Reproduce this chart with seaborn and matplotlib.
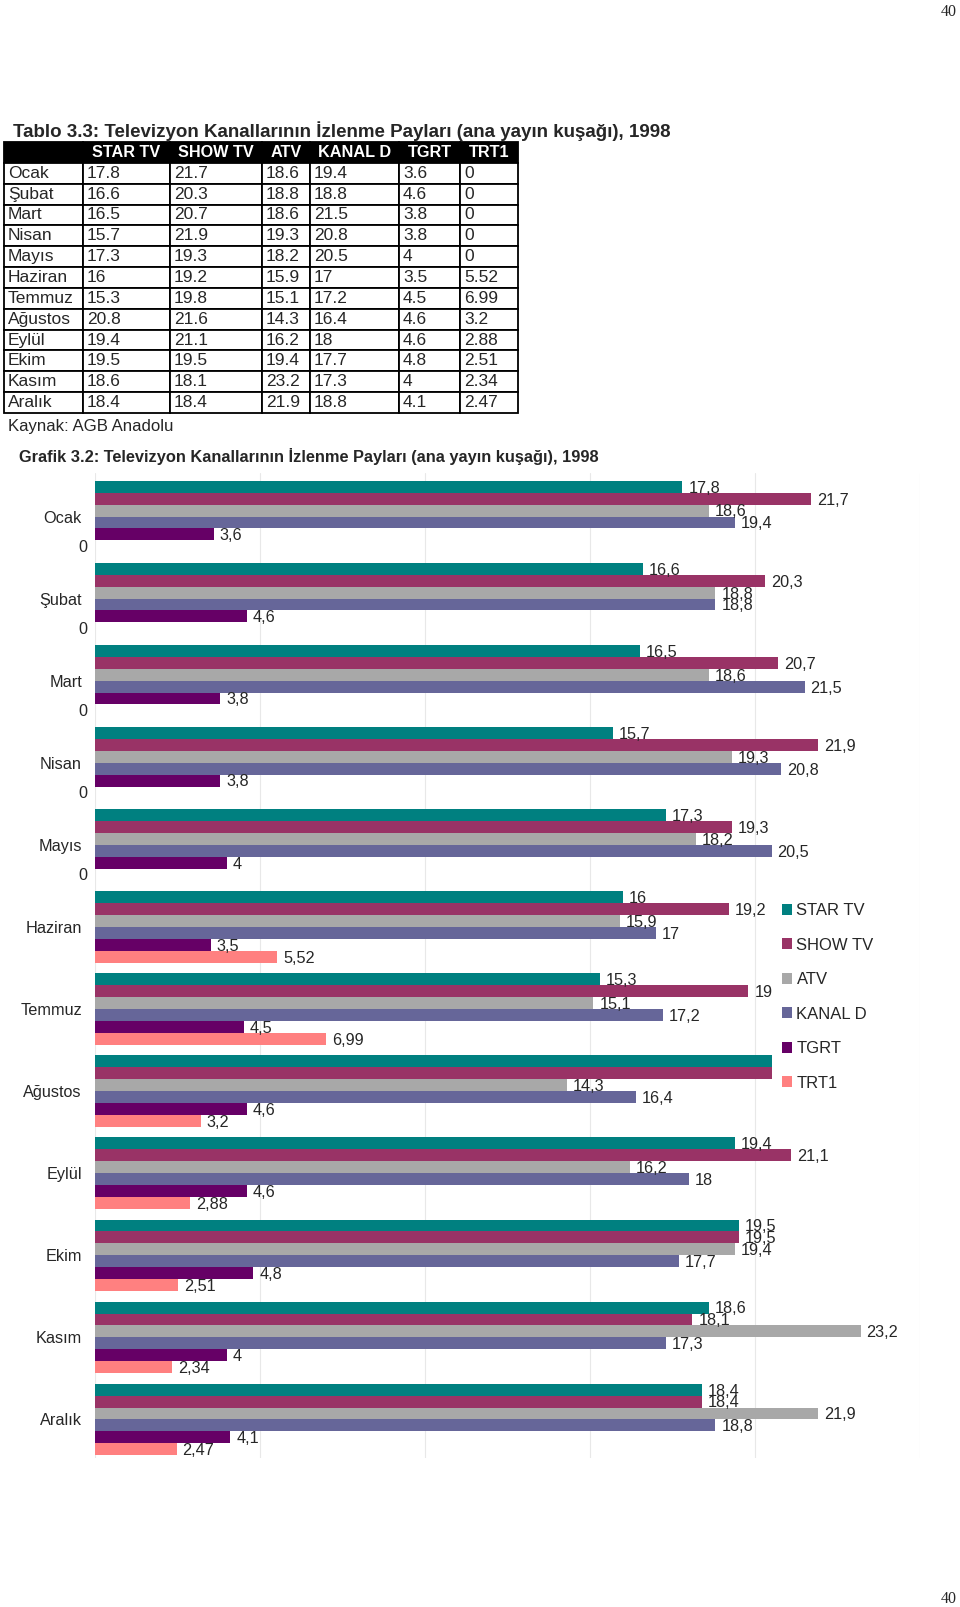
#!/usr/bin/env python3
# TV channel viewing shares 1998: table + grouped horizontal bar chart

import pandas as pd
import seaborn as sns
import matplotlib.pyplot as plt
from matplotlib.patches import Patch

months = ["Ocak", "Şubat", "Mart", "Nisan", "Mayıs", "Haziran", "Temmuz",
          "Ağustos", "Eylül", "Ekim", "Kasım", "Aralık"]
channels = ["STAR TV", "SHOW TV", "ATV", "KANAL D", "TGRT", "TRT1"]

star_tv = [17.8, 16.6, 16.5, 15.7, 17.3, 16, 15.3, 20.8, 19.4, 19.5, 18.6, 18.4]
show_tv = [21.7, 20.3, 20.7, 21.9, 19.3, 19.2, 19.8, 21.6, 21.1, 19.5, 18.1, 18.4]
atv = [18.6, 18.8, 18.6, 19.3, 18.2, 15.9, 15.1, 14.3, 16.2, 19.4, 23.2, 21.9]
kanal_d = [19.4, 18.8, 21.5, 20.8, 20.5, 17, 17.2, 16.4, 18, 17.7, 17.3, 18.8]
tgrt = [3.6, 4.6, 3.8, 3.8, 4, 3.5, 4.5, 4.6, 4.6, 4.8, 4, 4.1]
trt1 = [0, 0, 0, 0, 0, 5.52, 6.99, 3.2, 2.88, 2.51, 2.34, 2.47]

colors = ["#008080", "#993366", "#A8A8A8", "#666699", "#660066", "#FF8080"]

table_title = "Tablo 3.3: Televizyon Kanallarının İzlenme Payları (ana yayın kuşağı), 1998"
chart_title = "Grafik 3.2: Televizyon Kanallarının İzlenme Payları (ana yayın kuşağı), 1998"
source = "Kaynak: AGB Anadolu"
page_no = "40"

W, H = 960, 1607


def fx(x):
    return x / W


def fy(y):
    return 1 - y / H


series = [star_tv, show_tv, atv, kanal_d, tgrt, trt1]
data = pd.DataFrame(
    [(m, ch, vals[i]) for i, m in enumerate(months) for ch, vals in zip(channels, series)],
    columns=["month", "channel", "share"],
)

sns.set_style("white")
plt.rcParams['font.family'] = ['Liberation Sans', 'DejaVu Sans']

fig = plt.figure(figsize=(W / 100, H / 100), dpi=100)

# page numbers
fig.text(fx(957), fy(16), page_no, ha="right", va="baseline", fontsize=11.5, family="Liberation Serif")
fig.text(fx(957), fy(1603), page_no, ha="right", va="baseline", fontsize=11.5, family="Liberation Serif")

# ---- table ----
fig.text(fx(13), fy(137), table_title, fontsize=13.5, fontweight="bold", va="baseline")
col_px = [79, 87, 92, 48, 89, 61, 58]
tw = sum(col_px)
ax_t = fig.add_axes([fx(4), fy(413), tw / W, (413 - 142) / H])
ax_t.axis("off")
rows = [[m] + [f"{vals[i]:g}" for vals in series] for i, m in enumerate(months)]
tbl = ax_t.table(cellText=rows, colLabels=[""] + channels, colWidths=[c / tw for c in col_px],
                 bbox=[0, 0, 1, 1], cellLoc="left")
tbl.auto_set_font_size(False)
for (r, c), cell in tbl.get_celld().items():
    cell.set_linewidth(1.3)
    cell.set_edgecolor("black")
    cell.PAD = 4 / col_px[c]
    cell.get_text().set_fontsize(12.5)
    if r == 0:
        cell.set_facecolor("black")
        cell.get_text().set_color("white")
        cell.get_text().set_fontweight("bold")
        cell.get_text().set_fontsize(11.7)
fig.text(fx(8), fy(431), source, fontsize=12.1, va="baseline")

# ---- chart ----
fig.text(fx(19), fy(462), chart_title, fontsize=11.8, fontweight="bold", va="baseline")
ax = fig.add_axes([fx(95), fy(1458), (920 - 95) / W, (1458 - 473) / H])
sns.barplot(data=data, x="share", y="month", hue="channel", order=months, hue_order=channels,
            palette=colors, saturation=1, width=0.87, errorbar=None, linewidth=0, orient="h",
            ax=ax, legend=False)

ax.set_xlim(0, 25)
ax.set_ylim(11.47, -0.53)
ax.set_xticks(range(0, 26, 5))
ax.set_xticklabels([])
ax.set_xlabel("")
ax.set_ylabel("")
ax.tick_params(axis="both", length=0)
ax.tick_params(axis="y", pad=9.4, labelsize=11.7)
ax.xaxis.grid(True, color="#e8e8e8", lw=0.8)
ax.set_axisbelow(True)
sns.despine(ax=ax, left=True, bottom=True)

for vals, cont in zip(series, ax.containers):
    for v, bar in zip(vals, cont):
        yc = bar.get_y() + bar.get_height() / 2
        txt = f"{v:g}".replace(".", ",")
        if v == 0:
            ax.annotate(txt, (0, yc), xytext=(-5.8, -1), textcoords="offset points",
                        ha="right", va="center", fontsize=11.7, annotation_clip=False)
        else:
            ax.annotate(txt, (v, yc), xytext=(4.3, -1), textcoords="offset points",
                        ha="left", va="center", fontsize=11.7)

# opaque legend box: it hides the ends of a few bars and labels, as in the source
handles = [Patch(facecolor=c, edgecolor="none") for c in colors]
leg = ax.legend(handles, channels, loc="upper left", bbox_to_anchor=(fx(772), fy(893)),
                bbox_transform=fig.transFigure, borderaxespad=0, borderpad=0.6,
                frameon=True, facecolor="white", edgecolor="none", framealpha=1,
                fontsize=12, handlelength=0.62, handleheight=0.62, handletextpad=0.25,
                labelspacing=1.17, fancybox=False)

plt.savefig("out.png", dpi=100)
